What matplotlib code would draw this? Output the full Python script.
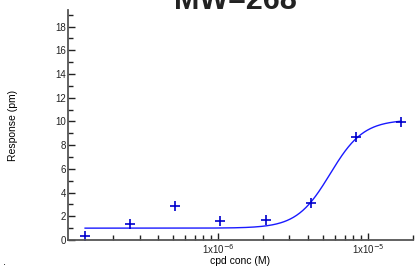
import numpy as np
import matplotlib
matplotlib.use("Agg")
import matplotlib.pyplot as plt
from matplotlib.ticker import LogLocator, MultipleLocator, NullFormatter, FixedLocator

plt.rcParams['font.family'] = ['Liberation Sans', 'DejaVu Sans']

# data (2x dilution series)
conc = [1.30e-7, 2.60e-7, 5.21e-7, 1.04e-6, 2.08e-6, 4.17e-6, 8.33e-6, 1.667e-5]
resp = [0.36, 1.32, 2.9, 1.63, 1.69, 3.1, 8.65, 9.95]

# fitted 4-parameter logistic
bottom, top, ec50, hill = 1.0, 10.15, 5.6e-6, 3.9

xfit = np.logspace(np.log10(conc[0]), np.log10(conc[-1]), 300)
yfit = bottom + (top - bottom) / (1 + (ec50 / xfit) ** hill)

fig = plt.figure(figsize=(4.16, 2.66), dpi=100)
ax = fig.add_axes([68/416, 26/266, 345/416, 230/266])

ax.plot(xfit, yfit, color='#1a1aff', lw=1.0)
ax.plot(conc, resp, '+', color='#0000cc', ms=7, mew=1.2)

ax.set_xscale('log')
ax.set_xlim(1e-7, 2e-5)
ax.set_ylim(0, 19.4)

ax.xaxis.set_major_locator(FixedLocator([1e-6, 1e-5]))
ax.xaxis.set_minor_locator(LogLocator(base=10, subs=np.arange(2, 10), numticks=20))
ax.xaxis.set_minor_formatter(NullFormatter())
ax.set_xticklabels(['1x10$^{-6}$', '1x10$^{-5}$'])
ax.yaxis.set_major_locator(MultipleLocator(2))
ax.yaxis.set_minor_locator(MultipleLocator(1))
ax.set_yticks(range(0, 19, 2))

ax.tick_params(which='major', direction='in', length=5, width=1, colors='#222222', labelsize=7, pad=1.5)
ax.tick_params(which='minor', direction='in', length=3.5, width=1, colors='#222222')
for s in ['top', 'right']:
    ax.spines[s].set_visible(False)
for s in ['left', 'bottom']:
    ax.spines[s].set_color('#555555')
    ax.spines[s].set_linewidth(1.3)

ax.set_xlabel('cpd conc (M)', fontsize=7.5)
ax.xaxis.set_label_coords(0.5, -15.5/230)
ax.set_ylabel('Response (pm)', fontsize=7.5)
ax.yaxis.set_label_coords(-50/345, 0.5)
fig.text(235/416, 1 - 9/266, 'MW=268', ha='center', va='baseline',
         fontsize=22, fontweight='bold', color='#222222')
fig.text(3/416, 1/266, '.', fontsize=8, color='black')

fig.savefig('out.png', dpi=100)
